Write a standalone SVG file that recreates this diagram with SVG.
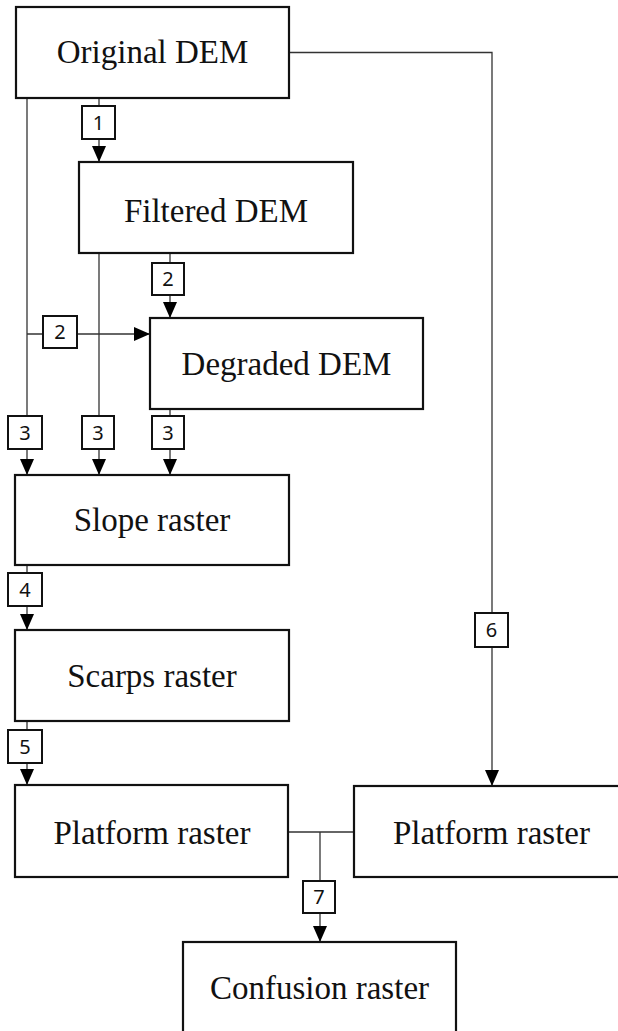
<svg xmlns="http://www.w3.org/2000/svg" width="618" height="1031" viewBox="0 0 618 1031">
<style>
.node rect{fill:#fff;stroke:#111;stroke-width:2.2}
.node text{font-family:"Liberation Serif","Times New Roman",serif;font-size:33px;fill:#111;text-anchor:middle}
.conn line,.conn polyline{fill:none;stroke:#333;stroke-width:1.3}
.lbl rect{fill:#fff;stroke:#111;stroke-width:2}
.lbl text{font-family:"Noto Sans","DejaVu Sans",sans-serif;font-size:20px;fill:#111;text-anchor:middle}
</style>
<defs>
<marker id="arr" markerUnits="userSpaceOnUse" markerWidth="16" markerHeight="14" refX="16" refY="7" orient="auto" viewBox="0 0 16 14">
<path d="M0,0 L16,7 L0,14 Z" fill="#000"/>
</marker>
</defs>
<rect width="618" height="1031" fill="#fff"/>
<g id="connectors" class="conn">
<line x1="99" y1="98" x2="99" y2="162" marker-end="url(#arr)"/>
<line x1="27" y1="98" x2="27" y2="475" marker-end="url(#arr)"/>
<line x1="27" y1="334" x2="150" y2="334" marker-end="url(#arr)"/>
<line x1="99" y1="253" x2="99" y2="475" marker-end="url(#arr)"/>
<line x1="170" y1="253" x2="170" y2="318" marker-end="url(#arr)"/>
<line x1="170" y1="409" x2="170" y2="475" marker-end="url(#arr)"/>
<line x1="27" y1="565" x2="27" y2="630" marker-end="url(#arr)"/>
<line x1="27" y1="721" x2="27" y2="785" marker-end="url(#arr)"/>
<polyline points="289,52.5 492,52.5 492,786" marker-end="url(#arr)"/>
<line x1="288" y1="832" x2="354" y2="832"/>
<line x1="320" y1="832" x2="320" y2="942" marker-end="url(#arr)"/>
</g>
<g id="labels">
<g class="lbl"><rect x="82" y="106" width="33" height="33"/><text x="98.5" y="129.5">1</text></g>
<g class="lbl"><rect x="152" y="263" width="32" height="32"/><text x="168" y="286">2</text></g>
<g class="lbl"><rect x="43" y="316" width="34" height="32"/><text x="60" y="339">2</text></g>
<g class="lbl"><rect x="8" y="416" width="34" height="33"/><text x="25" y="439.5">3</text></g>
<g class="lbl"><rect x="82" y="416" width="32" height="33"/><text x="98" y="439.5">3</text></g>
<g class="lbl"><rect x="152" y="416" width="32" height="33"/><text x="168" y="439.5">3</text></g>
<g class="lbl"><rect x="8" y="573" width="34" height="33"/><text x="25" y="596.5">4</text></g>
<g class="lbl"><rect x="8" y="730" width="34" height="33"/><text x="25" y="753.5">5</text></g>
<g class="lbl"><rect x="475" y="613" width="33" height="34"/><text x="491.5" y="637">6</text></g>
<g class="lbl"><rect x="303" y="881" width="32" height="32"/><text x="319" y="904">7</text></g>
</g>
<g id="original-dem" class="node"><rect x="16" y="7" width="273" height="91"/><text x="152.5" y="63">Original DEM</text></g>
<g id="filtered-dem" class="node"><rect x="79" y="162" width="274" height="91"/><text x="216" y="222">Filtered DEM</text></g>
<g id="degraded-dem" class="node"><rect x="150" y="318" width="273" height="91"/><text x="286.5" y="375">Degraded DEM</text></g>
<g id="slope-raster" class="node"><rect x="15" y="475" width="274" height="90"/><text x="152" y="531">Slope raster</text></g>
<g id="scarps-raster" class="node"><rect x="15" y="630" width="274" height="91"/><text x="152" y="687">Scarps raster</text></g>
<g id="platform-raster-1" class="node"><rect x="15" y="785" width="273" height="92"/><text x="152" y="844">Platform raster</text></g>
<g id="platform-raster-2" class="node"><rect x="354" y="786" width="275" height="91"/><text x="491.5" y="844">Platform raster</text></g>
<g id="confusion-raster" class="node"><rect x="183" y="942" width="273" height="95"/><text x="319.5" y="999">Confusion raster</text></g>
</svg>
